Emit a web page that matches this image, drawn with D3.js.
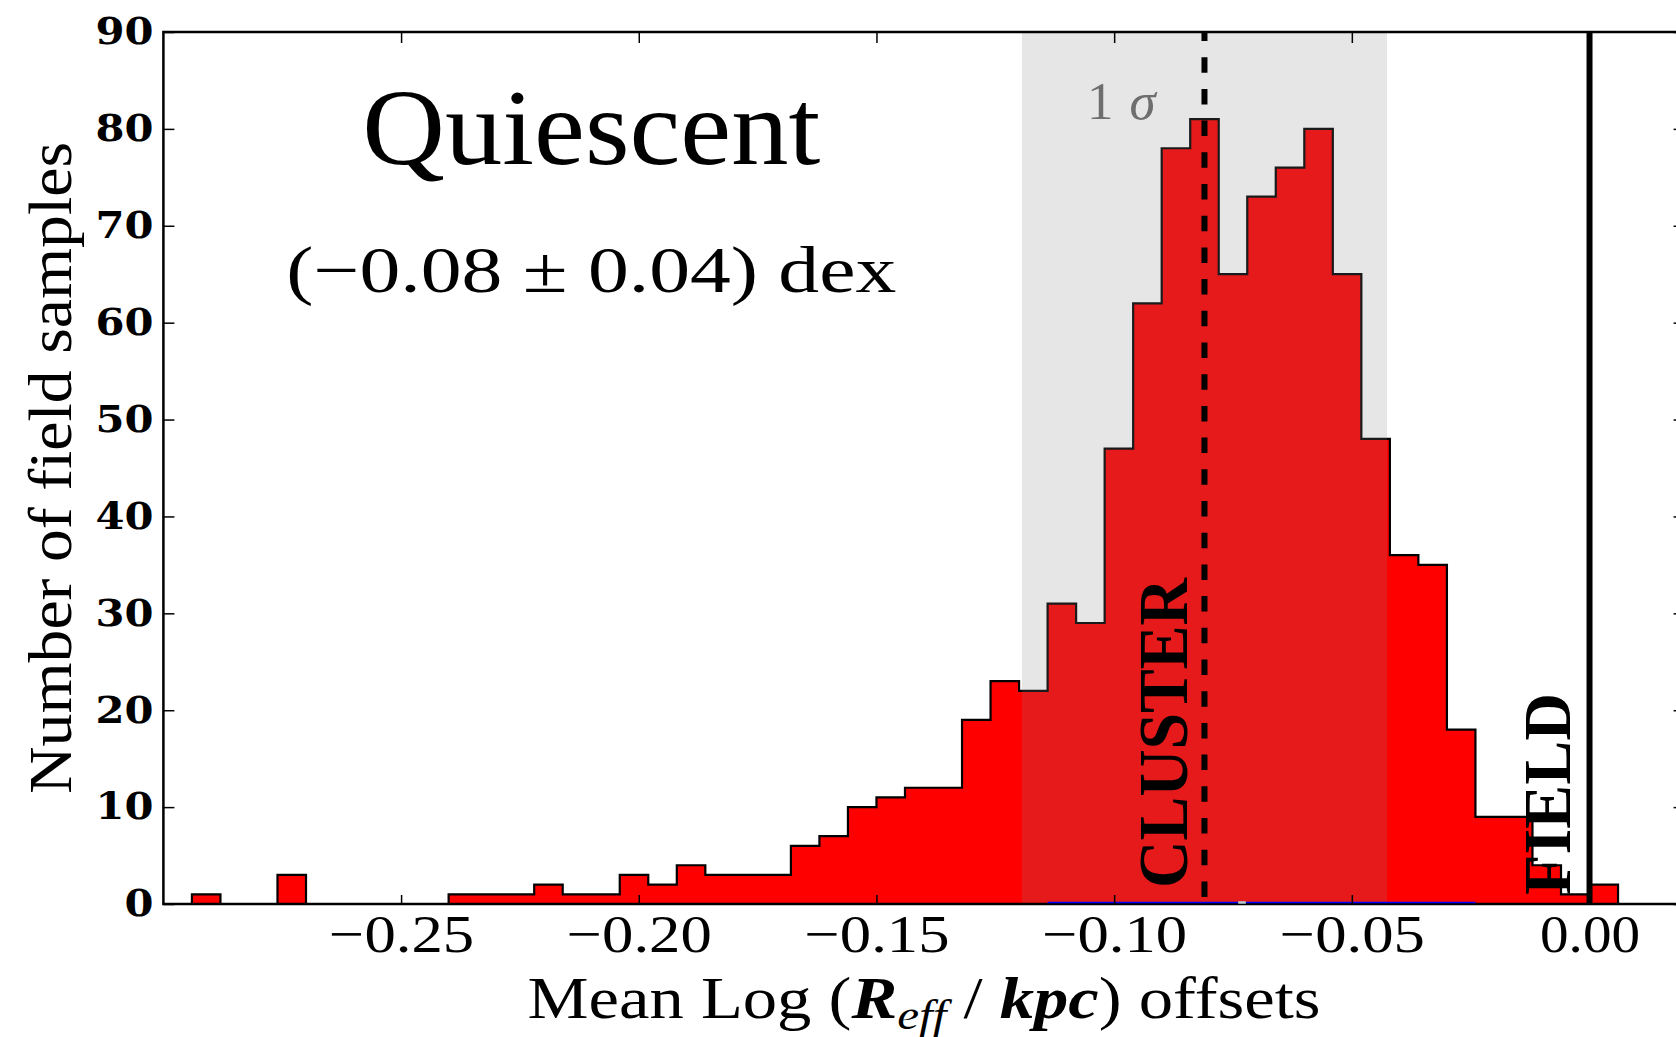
<!DOCTYPE html>
<html><head><meta charset="utf-8">
<script src="https://cdn.jsdelivr.net/npm/d3@7"></script>
<style>body{margin:0;background:#fff}svg{display:block}</style>
</head><body><svg id="c" width="1676" height="1037"></svg>
<script>
// ---- data ----
const binStart = -0.294;
const binWidth = 0.006;
const counts = [1,0,0,3,0,0,0,0,0,1,1,1,2,1,1,3,2,4,3,3,3,6,7,10,11,12,12,19,23,22,31,29,47,62,78,81,65,73,76,80,65,48,36,35,18,9,9,4,1,2];
const xTicks = [-0.25,-0.20,-0.15,-0.10,-0.05,0.00];
const yTicks = [0,10,20,30,40,50,60,70,80,90];
const clusterMean = -0.081;
const clusterSigma = 0.0384;
const fieldValue = 0.0;
const blueSegments = [[-0.114,-0.0739],[-0.0723,-0.024]];
const gapSegments = [[-0.0739,-0.0723]];
const titleText = "Quiescent";
const offsetText = "(\u22120.08 \u00b1 0.04) dex";
const yLabel = "Number of field samples";
const clusterLabel = "CLUSTER";
const fieldLabel = "FIELD";

// ---- layout ----
const svg = d3.select("#c");
const x = d3.scaleLinear().domain([-0.30, 0.02]).range([163.4, 1684.6]);
const y = d3.scaleLinear().domain([0, 90]).range([904, 32]);
const serif = "'Liberation Serif','Times New Roman',serif";

// histogram
const pts = [[binStart, 0]];
counts.forEach((c, i) => { const l = binStart + i * binWidth; pts.push([l, c], [l + binWidth, c]); });
pts.push([binStart + counts.length * binWidth, 0]);
const line = d3.line().x(d => x(d[0])).y(d => y(d[1]));
svg.append("path").attr("d", line(pts) + "Z")
  .attr("fill", "#ff0000").attr("stroke", "#000").attr("stroke-width", 2.2)
  .attr("stroke-linejoin", "miter");

// 1 sigma span
svg.append("rect")
  .attr("x", x(clusterMean - clusterSigma)).attr("y", y(90))
  .attr("width", x(clusterMean + clusterSigma) - x(clusterMean - clusterSigma))
  .attr("height", y(0) - y(90))
  .attr("fill", "#808080").attr("fill-opacity", 0.2);

// frame
svg.append("rect").attr("x", x(-0.30)).attr("y", y(90))
  .attr("width", x(0.02) - x(-0.30)).attr("height", y(0) - y(90))
  .attr("fill", "none").attr("stroke", "#000").attr("stroke-width", 2.5);

// blue baseline segments
blueSegments.forEach(s => svg.append("line")
  .attr("x1", x(s[0])).attr("x2", x(s[1])).attr("y1", y(0) - 1.5).attr("y2", y(0) - 1.5)
  .attr("stroke", "#0000ff").attr("stroke-width", 1.6));
gapSegments.forEach(s => svg.append("line")
  .attr("x1", x(s[0])).attr("x2", x(s[1])).attr("y1", y(0) - 1.5).attr("y2", y(0) - 1.5)
  .attr("stroke", "#b4cdd4").attr("stroke-width", 2.5));

// axes
const fmt = d3.format(".2f");
const gx = svg.append("g").attr("transform", `translate(0,${y(0)})`)
  .call(d3.axisBottom(x).tickValues(xTicks).tickFormat(fmt).tickSize(-9).tickPadding(10));
gx.select(".domain").remove();
gx.selectAll("line").attr("stroke-width", 1.5);
gx.selectAll("text").attr("font-family", serif).attr("font-size", 53).attr("fill", "#000")
  .attr("textLength", d => d < 0 ? 145 : 100).attr("lengthAdjust", "spacingAndGlyphs");
const gxt = svg.append("g").attr("transform", `translate(0,${y(90)})`)
  .call(d3.axisTop(x).tickValues(xTicks).tickFormat("").tickSize(-11));
gxt.select(".domain").remove();
gxt.selectAll("line").attr("stroke-width", 1.5);

const gy = svg.append("g").attr("transform", `translate(${x(-0.30)},0)`)
  .call(d3.axisLeft(y).tickValues(yTicks).tickFormat(d3.format("d")).tickSize(-11).tickPadding(10));
gy.select(".domain").remove();
gy.selectAll("line").attr("stroke-width", 1.5);
gy.selectAll("text").attr("font-family", "'DejaVu Serif',serif").attr("font-weight", "bold")
  .attr("font-size", 37).attr("fill", "#000")
  .attr("textLength", d => 29 * String(d).length).attr("lengthAdjust", "spacingAndGlyphs");
const gyr = svg.append("g").attr("transform", `translate(${x(0.02)},0)`)
  .call(d3.axisRight(y).tickValues(yTicks).tickFormat("").tickSize(-11));
gyr.select(".domain").remove();
gyr.selectAll("line").attr("stroke-width", 1.5);

// vertical reference lines
svg.append("line").attr("x1", x(clusterMean)).attr("x2", x(clusterMean))
  .attr("y1", y(90)).attr("y2", y(0))
  .attr("stroke", "#000").attr("stroke-width", 6)
  .attr("stroke-dasharray", "15.5,16.2").attr("stroke-dashoffset", 6.5);
svg.append("line").attr("x1", x(fieldValue)).attr("x2", x(fieldValue))
  .attr("y1", y(90)).attr("y2", y(0))
  .attr("stroke", "#000").attr("stroke-width", 6);

// texts
svg.append("text").attr("x", x(-0.21)).attr("y", y(76.4))
  .attr("text-anchor", "middle").attr("font-family", serif).attr("font-size", 109)
  .attr("textLength", 458).attr("lengthAdjust", "spacingAndGlyphs").text(titleText);
svg.append("text").attr("x", x(-0.21)).attr("y", y(63.2))
  .attr("text-anchor", "middle").attr("font-family", serif).attr("font-size", 65)
  .attr("textLength", 610).attr("lengthAdjust", "spacingAndGlyphs").text(offsetText);

const sig = svg.append("text").attr("x", x(-0.1057)).attr("y", y(81))
  .attr("font-family", serif).attr("font-size", 53).attr("fill", "#6e6e6e");
sig.append("tspan").text("1");
sig.append("tspan").attr("dx", 16).attr("font-style", "italic").text("\u03c3");

svg.append("text").attr("transform", `translate(${x(-0.0847)},${y(1.65)}) rotate(-90)`)
  .attr("font-family", serif).attr("font-weight", "bold").attr("font-size", 69)
  .attr("textLength", 310).attr("lengthAdjust", "spacingAndGlyphs").text(clusterLabel);
svg.append("text").attr("transform", `translate(${x(-0.0041)},${y(0.93)}) rotate(-90)`)
  .attr("font-family", serif).attr("font-weight", "bold").attr("font-size", 67)
  .attr("textLength", 202).attr("lengthAdjust", "spacingAndGlyphs").text(fieldLabel);

// axis labels
svg.append("text").attr("transform", `translate(71,${(y(0) + y(90)) / 2}) rotate(-90)`)
  .attr("text-anchor", "middle").attr("font-family", serif).attr("font-size", 62)
  .attr("textLength", 652).attr("lengthAdjust", "spacingAndGlyphs").text(yLabel);

const xl = svg.append("text").attr("x", (x(-0.30) + x(0.02)) / 2).attr("y", 1018)
  .attr("text-anchor", "middle").attr("font-family", serif).attr("font-size", 60)
  .attr("textLength", 793).attr("lengthAdjust", "spacingAndGlyphs");
xl.append("tspan").text("Mean Log (");
xl.append("tspan").attr("font-style", "italic").attr("font-weight", "bold").text("R");
xl.append("tspan").attr("font-style", "italic").attr("font-size", 43).attr("dy", 11).text("eff");
xl.append("tspan").attr("dy", -11).text(" / ");
xl.append("tspan").attr("font-style", "italic").attr("font-weight", "bold").text("kpc");
xl.append("tspan").text(") offsets");
</script></body></html>
